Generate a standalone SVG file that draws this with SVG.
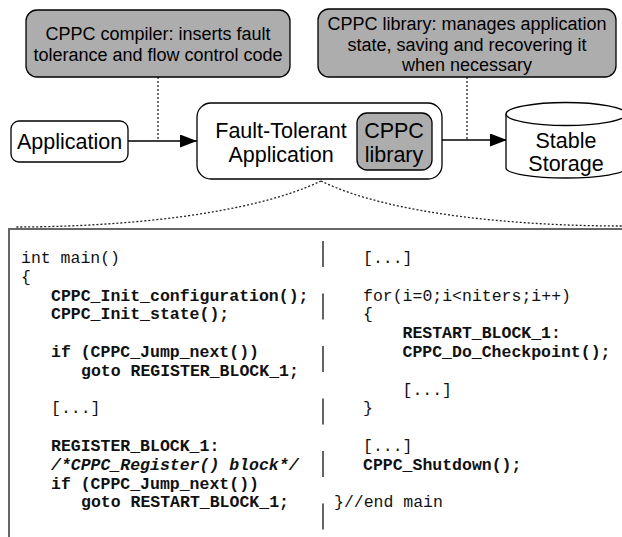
<svg xmlns="http://www.w3.org/2000/svg" width="622" height="537" viewBox="0 0 622 537">
<style>
.lbl{fill:#adadad;stroke:#000;stroke-width:1.3}
.box{fill:#fff;stroke:#000;stroke-width:1.3}
.sans{font-family:"Liberation Sans",Arial,sans-serif;fill:#000;text-anchor:middle}
.s18{font-size:18px}
.s21{font-size:21.5px}
.code{font-family:"Liberation Mono","Courier New",monospace;font-size:16.5px;fill:#111}
.b{font-weight:bold}
.bi{font-weight:bold;font-style:italic}
.dot{fill:none;stroke:#222;stroke-width:1.3;stroke-dasharray:2 2}
.arr{fill:none;stroke:#000;stroke-width:1.5}
</style>
<defs>
<marker id="ah" markerWidth="17" markerHeight="13" refX="17" refY="6.5" orient="auto" markerUnits="userSpaceOnUse">
<path d="M0,0 L17,6.5 L0,13 Z" fill="#000"/>
</marker>
</defs>
<rect width="622" height="537" fill="#fff"/>

<g id="connectors">
<line class="dot" x1="158" y1="77" x2="158" y2="140"/>
<line class="dot" x1="467" y1="77" x2="467" y2="140"/>
<line class="arr" x1="128" y1="141" x2="197" y2="141" marker-end="url(#ah)"/>
<line class="arr" x1="442" y1="140" x2="507" y2="140" marker-end="url(#ah)"/>
<path class="dot" d="M321,181 C250,215 120,227 15,227"/>
<path class="dot" d="M321,181 C390,215 520,226 622,226"/>
</g>

<g id="compiler-label">
<rect class="lbl" x="26" y="10" width="264" height="67" rx="11"/>
<text class="sans s18" x="158" y="40">CPPC compiler: inserts fault</text>
<text class="sans s18" x="158" y="61">tolerance and flow control code</text>
</g>

<g id="library-label">
<rect class="lbl" x="318" y="9" width="298" height="68" rx="11"/>
<text class="sans s18" x="467" y="30">CPPC library: manages application</text>
<text class="sans s18" x="467" y="50.5">state, saving and recovering it</text>
<text class="sans s18" x="467" y="71">when necessary</text>
</g>

<g id="application">
<rect class="box" x="11" y="121" width="117" height="41" rx="8"/>
<text class="sans s21" x="69.5" y="149">Application</text>
</g>

<g id="fault-tolerant-application">
<rect class="box" x="197" y="103" width="245" height="76" rx="14"/>
<text class="sans s21" x="281" y="138">Fault-Tolerant</text>
<text class="sans s21" x="281" y="162">Application</text>
<g id="cppc-library">
<rect class="lbl" x="357" y="113" width="75" height="57" rx="10"/>
<text class="sans s21" x="394" y="138">CPPC</text>
<text class="sans s21" x="394" y="162">library</text>
</g>
</g>

<g id="stable-storage">
<path class="box" d="M506,114 L506,168 A60,10 0 0 0 626,168 L626,114"/>
<ellipse class="box" cx="566" cy="114" rx="60" ry="11.5"/>
<text class="sans s21" x="566" y="148">Stable</text>
<text class="sans s21" x="566" y="171">Storage</text>
</g>

<g id="code">
<rect x="9" y="229" width="640" height="340" fill="#fff" stroke="#666" stroke-width="2"/>
<line x1="323" y1="241" x2="323" y2="537" stroke="#222" stroke-width="1.4" stroke-dasharray="26 26.5"/>
<text class="code" x="21" y="263">int main()</text>
<text class="code" x="21" y="281.8">{</text>
<text class="code b" x="51" y="300.6">CPPC_Init_configuration();</text>
<text class="code b" x="51" y="319.4">CPPC_Init_state();</text>
<text class="code b" x="51" y="357">if (CPPC_Jump_next())</text>
<text class="code b" x="81" y="375.8">goto REGISTER_BLOCK_1;</text>
<text class="code" x="51" y="413.4">[...]</text>
<text class="code b" x="51" y="451">REGISTER_BLOCK_1:</text>
<text class="code bi" x="51" y="469.8">/*CPPC_Register() block*/</text>
<text class="code b" x="51" y="488.6">if (CPPC_Jump_next())</text>
<text class="code b" x="81" y="507.4">goto RESTART_BLOCK_1;</text>

<text class="code" x="363" y="263">[...]</text>
<text class="code" x="363" y="300.6">for(i=0;i&lt;niters;i++)</text>
<text class="code" x="363" y="319.4">{</text>
<text class="code b" x="402.5" y="338.2">RESTART_BLOCK_1:</text>
<text class="code b" x="402.5" y="357">CPPC_Do_Checkpoint();</text>
<text class="code" x="402.5" y="394.6">[...]</text>
<text class="code" x="363" y="413.4">}</text>
<text class="code" x="363" y="451">[...]</text>
<text class="code b" x="363" y="469.8">CPPC_Shutdown();</text>
<text class="code" x="334" y="507.4">}//end main</text>
</g>
</svg>
